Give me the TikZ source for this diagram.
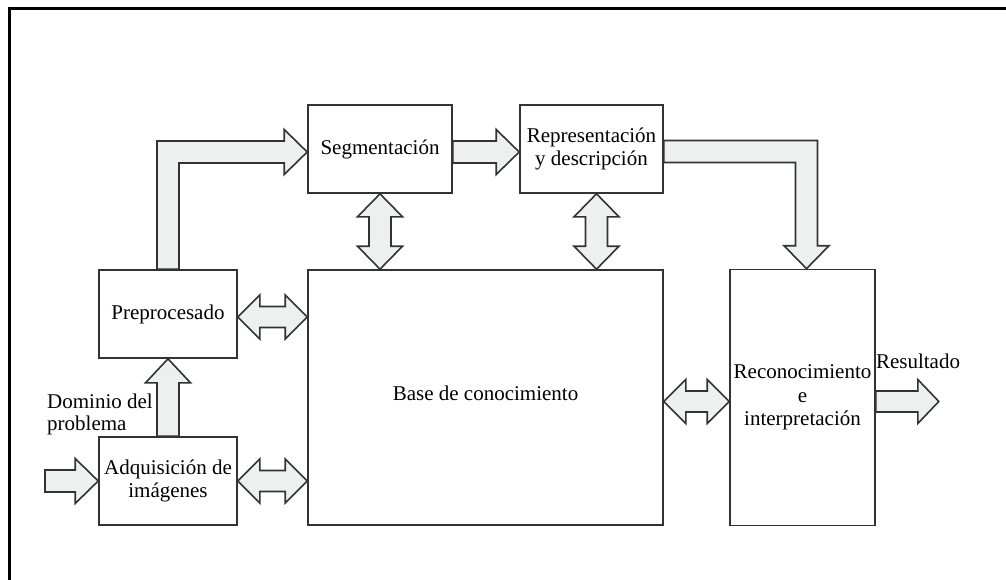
\documentclass[tikz,border=0pt]{standalone}
\usepackage{fontspec}
\setmainfont{Liberation Serif}
\usetikzlibrary{calc}
\definecolor{edge}{HTML}{333333}
\definecolor{arrowfill}{HTML}{EEF0F0}
\tikzset{
  box/.style={draw=edge, line width=1.6pt, rectangle, inner sep=0pt, align=center,
              font=\fontsize{21}{23.5}\selectfont},
  fat/.style={draw=edge, fill=arrowfill, line width=1.6pt, line join=miter},
  lbl/.style={inner sep=0pt, font=\fontsize{21}{22}\selectfont}
}
\begin{document}
\begin{tikzpicture}[x=1pt,y=-1pt]
\useasboundingbox (0,0) rectangle (1006,580);
% frame
\draw[line width=3pt, black] (9,580) -- (9,9) -- (1006,9);

% boxes
\node[box, minimum width=144pt, minimum height=88pt] (seg) at (380,149) {Segmentación};
\node[box, minimum width=143pt, minimum height=88pt] (rep) at (591.5,149) {Representación\\y descripción};
\node[box, minimum width=138pt, minimum height=88pt] (pre) at (168,314) {Preprocesado};
\node[box, minimum width=138pt, minimum height=88pt] (adq) at (168,481) {Adquisición de\\imágenes};
\node[box, minimum width=355pt, minimum height=255pt] (base) at (485.5,397.5) {};
\node[font=\fontsize{21}{23.5}\selectfont] (basetxt) at (485.5,393) {Base de conocimiento};
\node[box, minimum width=145pt, minimum height=256pt] (rec) at (802.5,397.5) {Reconocimiento\\e\\interpretación};

% labels
\node[lbl, anchor=west, align=left] (dom) at (47,414) {Dominio del\\problema};
\node[lbl] (res) at (918,361) {Resultado};

% helper coordinates
\coordinate (in) at (45,481);
\coordinate (t1) at ($(seg.west)+(0,3)$);
\coordinate (c1) at (pre.north |- t1);
\coordinate (s2) at ($(rep.east)+(0,2.5)$);
\coordinate (t2) at ($(rec.north)+(4,0)$);
\coordinate (c2) at (t2 |- s2);
\coordinate (sbA) at (seg.south);
\coordinate (sbB) at (seg.south |- base.north);
\coordinate (rbA) at ($(rep.south)+(5,0)$);
\coordinate (rbB) at (rbA |- base.north);
\coordinate (pbA) at ($(pre.east)+(0,3)$);
\coordinate (pbB) at (base.west |- pbA);
\coordinate (abA) at (adq.east);
\coordinate (abB) at (base.west |- abA);
\coordinate (brA) at ($(base.east)+(0,4)$);
\coordinate (brB) at (rec.west |- brA);
\coordinate (rsA) at ($(rec.east)+(0,4)$);
\coordinate (rsB) at ($(rsA)+(63,0)$);

% input arrow -> adquisicion
\filldraw[fat] ($(in)+(0,-11)$) -- ($(adq.west)+(-23,-11)$) -- ($(adq.west)+(-23,-22.5)$) -- (adq.west)
  -- ($(adq.west)+(-23,22.5)$) -- ($(adq.west)+(-23,11)$) -- ($(in)+(0,11)$) -- cycle;

% adquisicion -> preprocesado (up)
\filldraw[fat] ($(adq.north)+(-11,0)$) -- ($(pre.south)+(-11,24)$) -- ($(pre.south)+(-22.5,24)$) -- (pre.south)
  -- ($(pre.south)+(22.5,24)$) -- ($(pre.south)+(11,24)$) -- ($(adq.north)+(11,0)$) -- cycle;

% preprocesado -> segmentacion (L)
\filldraw[fat] ($(pre.north)+(-11,0)$) -- ($(c1)+(-11,-11)$) -- ($(t1)+(-23,-11)$) -- ($(t1)+(-23,-22.5)$) -- (t1)
  -- ($(t1)+(-23,22.5)$) -- ($(t1)+(-23,11)$) -- ($(c1)+(11,11)$) -- ($(pre.north)+(11,0)$) -- cycle;

% segmentacion -> representacion
\filldraw[fat] ($(seg.east)+(0,-8)$) -- ($(rep.west)+(-23,-8)$) -- ($(rep.west)+(-23,-19.5)$) -- ($(rep.west)+(0,3)$)
  -- ($(rep.west)+(-23,25.5)$) -- ($(rep.west)+(-23,14)$) -- ($(seg.east)+(0,14)$) -- cycle;

% representacion -> reconocimiento (L)
\filldraw[fat] ($(s2)+(0,-11)$) -- ($(c2)+(11,-11)$) -- ($(t2)+(11,-23)$) -- ($(t2)+(22.5,-23)$) -- (t2)
  -- ($(t2)+(-22.5,-23)$) -- ($(t2)+(-11,-23)$) -- ($(c2)+(-11,11)$) -- ($(s2)+(0,11)$) -- cycle;

% vertical double arrows
\filldraw[fat] (sbA) -- ($(sbA)+(22.5,23)$) -- ($(sbA)+(11,23)$) -- ($(sbB)+(11,-23)$) -- ($(sbB)+(22.5,-23)$) -- (sbB)
  -- ($(sbB)+(-22.5,-23)$) -- ($(sbB)+(-11,-23)$) -- ($(sbA)+(-11,23)$) -- ($(sbA)+(-22.5,23)$) -- cycle;
\filldraw[fat] (rbA) -- ($(rbA)+(22.5,23)$) -- ($(rbA)+(11,23)$) -- ($(rbB)+(11,-23)$) -- ($(rbB)+(22.5,-23)$) -- (rbB)
  -- ($(rbB)+(-22.5,-23)$) -- ($(rbB)+(-11,-23)$) -- ($(rbA)+(-11,23)$) -- ($(rbA)+(-22.5,23)$) -- cycle;

% horizontal double arrows
\filldraw[fat] (pbA) -- ($(pbA)+(22,-22)$) -- ($(pbA)+(22,-10.5)$) -- ($(pbB)+(-22,-10.5)$) -- ($(pbB)+(-22,-22)$) -- (pbB)
  -- ($(pbB)+(-22,22)$) -- ($(pbB)+(-22,10.5)$) -- ($(pbA)+(22,10.5)$) -- ($(pbA)+(22,22)$) -- cycle;
\filldraw[fat] (abA) -- ($(abA)+(22,-22)$) -- ($(abA)+(22,-10.5)$) -- ($(abB)+(-22,-10.5)$) -- ($(abB)+(-22,-22)$) -- (abB)
  -- ($(abB)+(-22,22)$) -- ($(abB)+(-22,10.5)$) -- ($(abA)+(22,10.5)$) -- ($(abA)+(22,22)$) -- cycle;
\filldraw[fat] (brA) -- ($(brA)+(22,-22)$) -- ($(brA)+(22,-10.5)$) -- ($(brB)+(-22,-10.5)$) -- ($(brB)+(-22,-22)$) -- (brB)
  -- ($(brB)+(-22,22)$) -- ($(brB)+(-22,10.5)$) -- ($(brA)+(22,10.5)$) -- ($(brA)+(22,22)$) -- cycle;

% resultado arrow
\filldraw[fat] ($(rsA)+(0,-10.5)$) -- ($(rsB)+(-21,-10.5)$) -- ($(rsB)+(-21,-22)$) -- (rsB)
  -- ($(rsB)+(-21,22)$) -- ($(rsB)+(-21,10.5)$) -- ($(rsA)+(0,10.5)$) -- cycle;
\end{tikzpicture}
\end{document}
